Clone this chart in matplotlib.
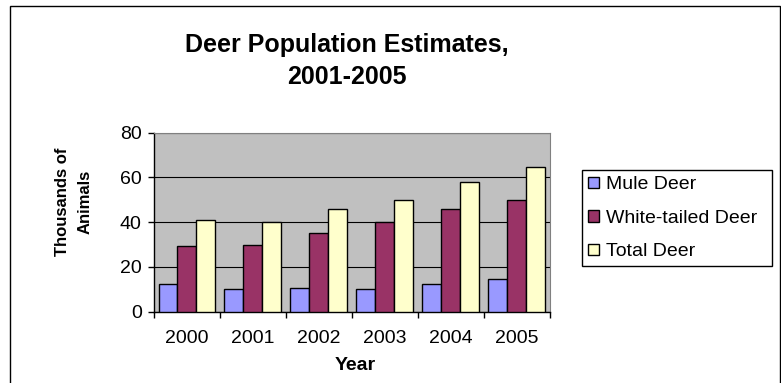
import numpy as np
import matplotlib.pyplot as plt
from matplotlib.patches import Rectangle

years = ["2000", "2001", "2002", "2003", "2004", "2005"]
mule_deer = [12.2, 10.0, 10.7, 10.0, 12.2, 14.5]
white_tailed_deer = [29.3, 30.0, 35.2, 40.0, 45.8, 50.0]
total_deer = [41.0, 40.0, 45.9, 50.0, 58.0, 64.5]

series_labels = ["Mule Deer", "White-tailed Deer", "Total Deer"]
series_colors = ["#9999FF", "#993366", "#FFFFCC"]

plt.rcParams["font.family"] = ["Liberation Sans", "DejaVu Sans"]

W, H = 781, 383


def main() -> None:
    fig = plt.figure(figsize=(W / 100, H / 100), dpi=100)

    # outer chart frame (runs off the bottom edge)
    fig.patches.append(Rectangle((10 / W, -0.05), 770 / W, 1 - 6 / H + 0.05,
                                 transform=fig.transFigure, fill=False,
                                 edgecolor="black", linewidth=1.0))

    ax = fig.add_axes([154 / W, 1 - 311.7 / H, 395.5 / W, 179 / H])
    ax.set_facecolor("#C0C0C0")

    x = np.arange(len(years))
    width = 0.287
    for i, (vals, lab, col) in enumerate(zip([mule_deer, white_tailed_deer, total_deer],
                                             series_labels, series_colors)):
        ax.bar(x + (i - 1) * width, vals, width, color=col, edgecolor="black",
               linewidth=1.0, label=lab, zorder=3)

    ax.set_xlim(-0.5, len(years) - 0.5)
    ax.set_ylim(0, 80)
    ax.set_yticks([0, 20, 40, 60, 80])
    ax.yaxis.grid(True, color="black", linewidth=0.8, zorder=1)
    ax.set_axisbelow(True)

    ax.set_xticks(x)
    ax.set_xticklabels(years, fontsize=14)
    ax.set_xticks(np.arange(len(years) + 1) - 0.5, minor=True)
    ax.tick_params(axis="x", which="major", length=0, pad=13)
    ax.tick_params(axis="x", which="minor", length=4, width=1, direction="out")
    ax.tick_params(axis="y", labelsize=14, length=4.3, width=1, pad=4.5,
                   direction="out")

    for side in ["top", "right"]:
        ax.spines[side].set_color("#808080")
    for side in ["left", "bottom"]:
        ax.spines[side].set_color("black")
        ax.spines[side].set_linewidth(1.0)

    fig.text(355 / W, 1 - 366 / H, "Year", fontsize=14, fontweight="bold",
             ha="center", va="center")
    fig.text(74 / W, 1 - 202 / H, "Thousands of\nAnimals", rotation=90,
             fontsize=12, fontweight="bold", ha="center", va="center",
             linespacing=1.6)

    fig.text(347 / W, 1 - 45 / H, "Deer Population Estimates,", fontsize=18,
             fontweight="bold", ha="center", va="center")
    fig.text(347 / W, 1 - 77 / H, "2001-2005", fontsize=18,
             fontweight="bold", ha="center", va="center")

    leg = ax.legend(loc="center left", bbox_to_anchor=(582 / W, 1 - 268.3 / H,
                                                       190 / W, 100 / H),
                    bbox_transform=fig.transFigure, mode="expand",
                    fontsize=14, frameon=True, fancybox=False, framealpha=1,
                    edgecolor="black", handlelength=0.55, handleheight=0.55,
                    handletextpad=0.4, labelspacing=0.85, borderaxespad=0,
                    borderpad=0.3)
    leg.get_frame().set_linewidth(1.0)

    fig.savefig("out.png", dpi=100)


if __name__ == "__main__":
    main()
